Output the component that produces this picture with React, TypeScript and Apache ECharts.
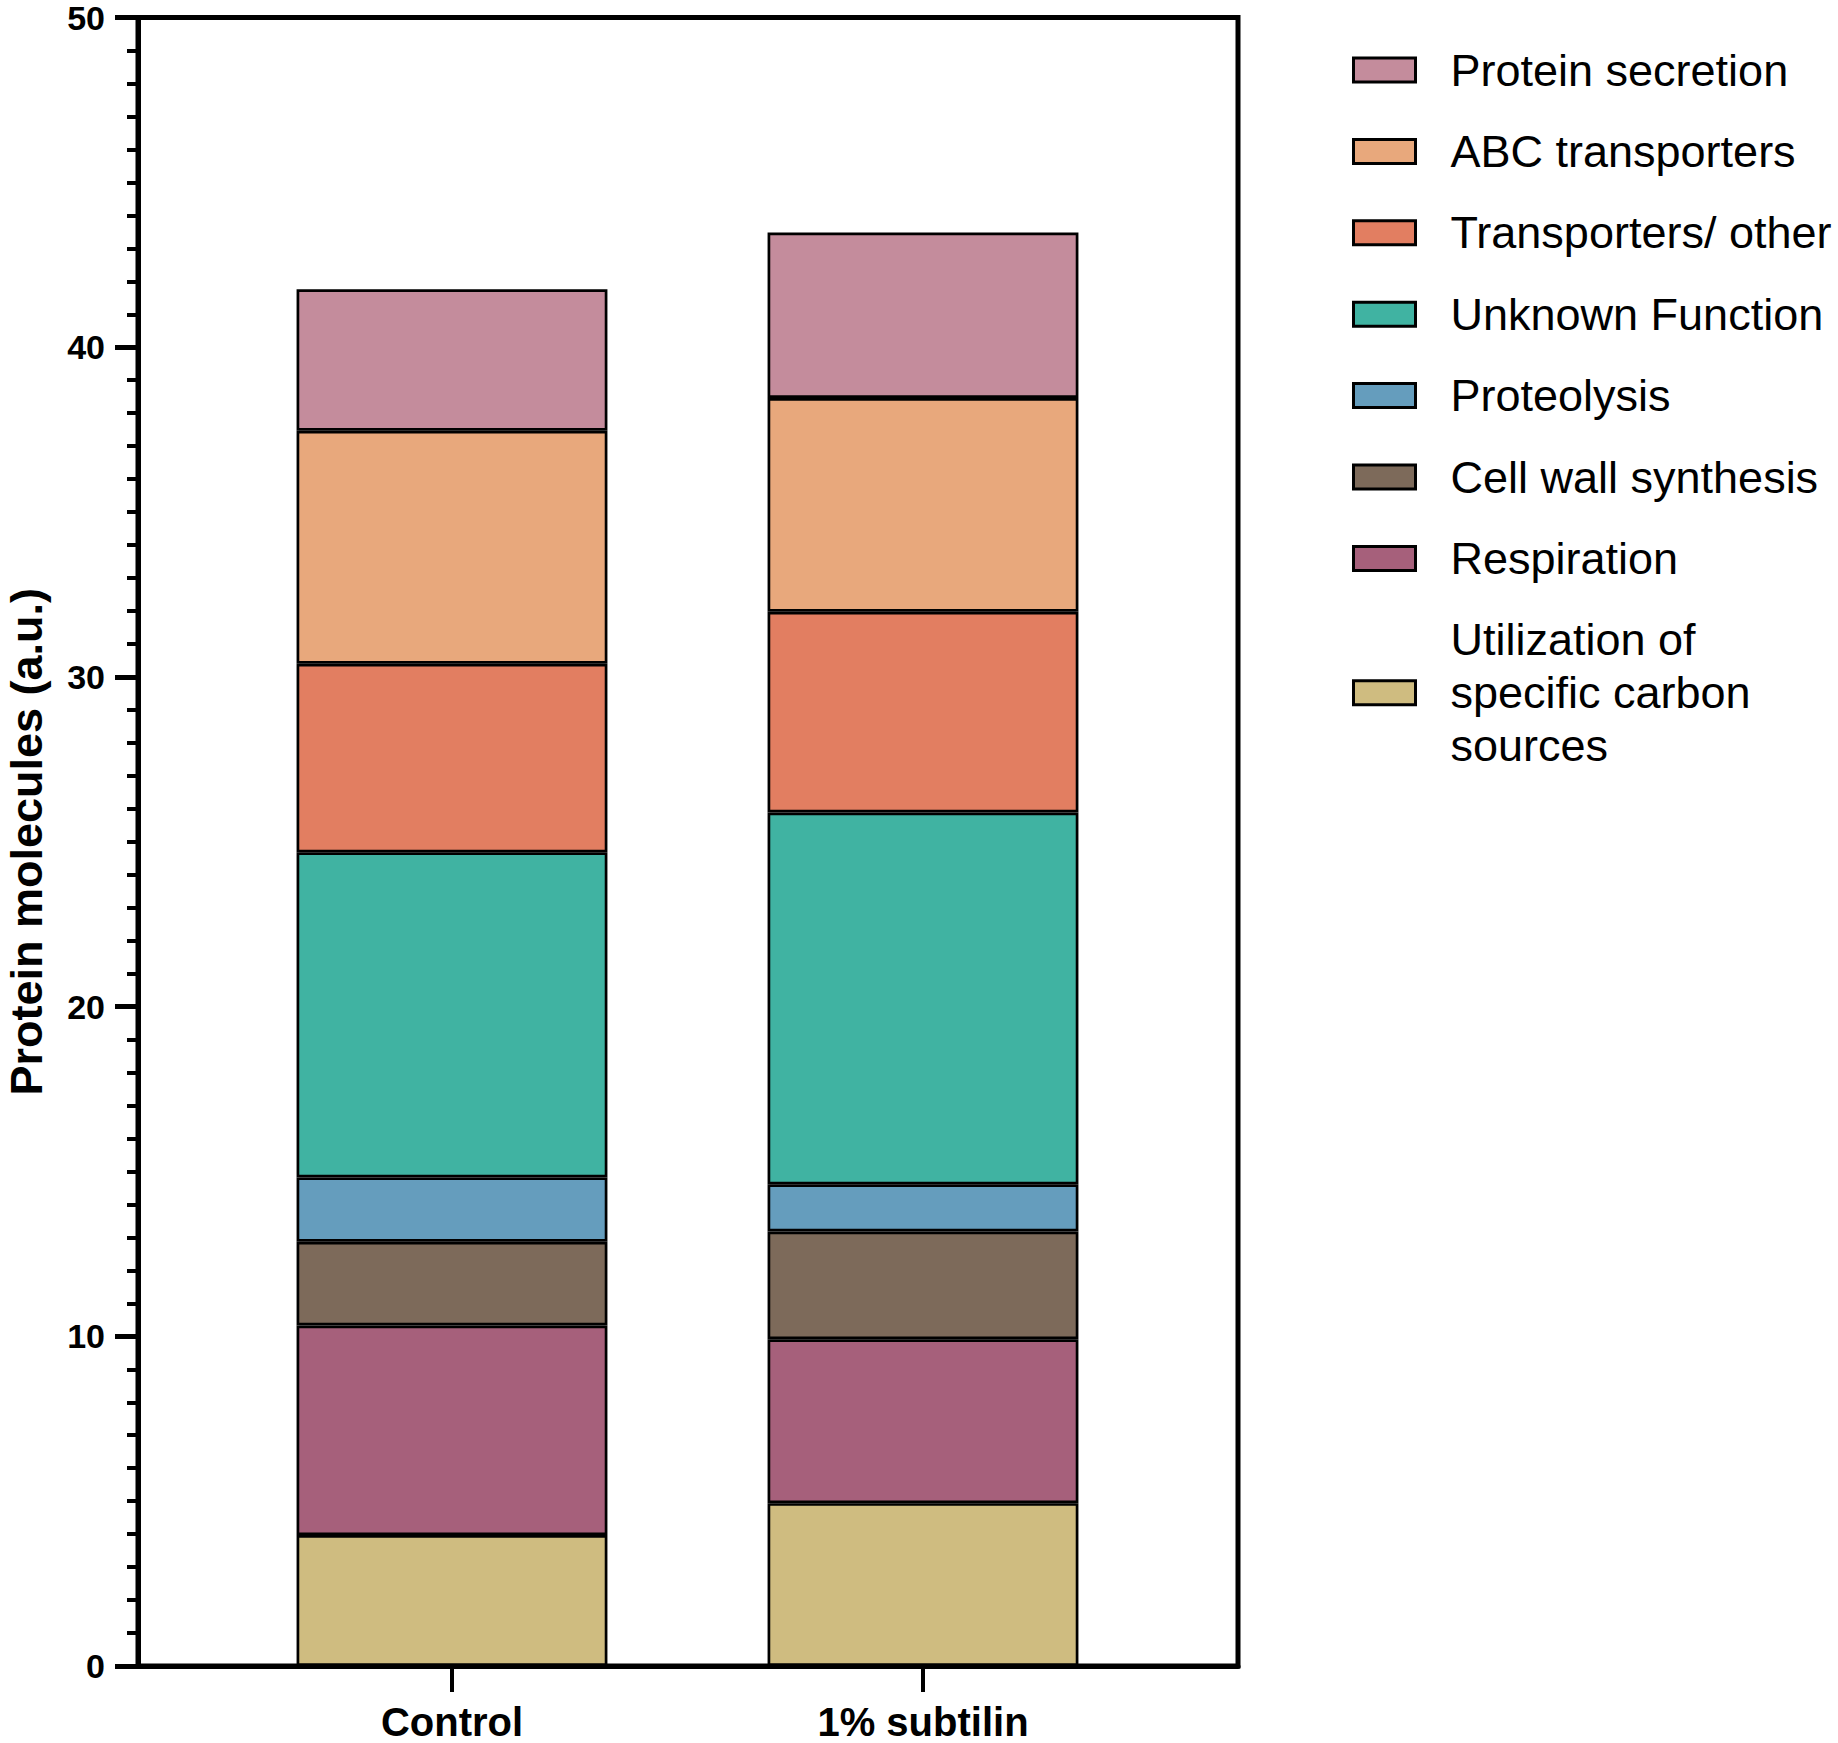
import React, { useEffect, useRef } from "react";
import * as echarts from "echarts";

const categories = ["Control", "1% subtilin"];

// stacking order: bottom to top
const seriesNames = [
  "Utilization of specific carbon sources",
  "Respiration",
  "Cell wall synthesis",
  "Proteolysis",
  "Unknown Function",
  "Transporters/ other",
  "ABC transporters",
  "Protein secretion",
];

const utilization = [3.97, 4.94];
const respiration = [6.36, 4.97];
const cellWall = [2.54, 3.27];
const proteolysis = [1.95, 1.43];
const unknownFunction = [9.86, 11.28];
const transportersOther = [5.72, 6.09];
const abcTransporters = [7.07, 6.48];
const proteinSecretion = [4.29, 5.02];

const seriesValues = [
  utilization,
  respiration,
  cellWall,
  proteolysis,
  unknownFunction,
  transportersOther,
  abcTransporters,
  proteinSecretion,
];

const seriesColors = [
  "#CFBC80",
  "#A6607B",
  "#7D6A5A",
  "#659DBD",
  "#40B3A2",
  "#E27E61",
  "#E8A87C",
  "#C48C9C",
];

const FONT = "'Liberation Sans', Arial, Helvetica, sans-serif";

export default function App() {
  const ref = useRef<HTMLDivElement>(null);

  useEffect(() => {
    document.body.style.margin = "0";
    const chart = echarts.init(ref.current!, null, { renderer: "svg" });

    const option = {
      animation: false,
      backgroundColor: "#ffffff",
      textStyle: { fontFamily: FONT },
      grid: [
        {
          left: 138,
          top: 17.6,
          width: 1100,
          height: 1648.4,
          show: true,
          borderColor: "#000",
          borderWidth: 5,
          backgroundColor: "transparent",
          containLabel: false,
          outerBoundsMode: "none",
        },
        {
          left: 216.5,
          top: 17.6,
          width: 942,
          height: 1648.4,
          show: false,
          containLabel: false,
          outerBoundsMode: "none",
        },
      ],
      xAxis: [
        {
          type: "value",
          gridIndex: 0,
          min: 0,
          max: 1,
          axisLine: { show: true, lineStyle: { color: "#000", width: 5 } },
          axisTick: { show: false },
          axisLabel: { show: false },
          splitLine: { show: false },
        },
        {
          type: "category",
          gridIndex: 1,
          data: categories,
          boundaryGap: true,
          axisLine: { show: false },
          axisTick: {
            show: true,
            alignWithLabel: true,
            length: 26,
            lineStyle: { color: "#000", width: 4 },
          },
          axisLabel: {
            color: "#000",
            fontSize: 40,
            fontWeight: "bold",
            fontFamily: FONT,
            margin: 36,
          },
          splitLine: { show: false },
        },
      ],
      yAxis: [
        {
          type: "value",
          gridIndex: 0,
          min: 0,
          max: 50,
          interval: 10,
          name: "Protein molecules (a.u.)",
          nameLocation: "middle",
          nameRotate: 90,
          nameGap: 89,
          nameTextStyle: {
            color: "#000",
            fontSize: 45,
            lineHeight: 46,
            fontWeight: "bold",
            fontFamily: FONT,
          },
          axisLine: { show: true, lineStyle: { color: "#000", width: 5 } },
          axisTick: {
            show: true,
            length: 23,
            lineStyle: { color: "#000", width: 5 },
          },
          minorTick: {
            show: true,
            splitNumber: 10,
            length: 11,
            lineStyle: { color: "#000", width: 4 },
          },
          axisLabel: {
            color: "#000",
            fontSize: 34,
            fontWeight: "bold",
            fontFamily: FONT,
            margin: 33,
          },
          splitLine: { show: false },
          minorSplitLine: { show: false },
        },
        {
          type: "value",
          gridIndex: 1,
          min: 0,
          max: 50,
          show: false,
          splitLine: { show: false },
        },
      ],
      legend: {
        orient: "vertical",
        left: 1352,
        top: 43.5,
        padding: 0,
        itemGap: 28.4,
        itemWidth: 62,
        itemHeight: 24,
        icon: "rect",
        itemStyle: { borderColor: "#000", borderWidth: 3 },
        textStyle: {
          color: "#000",
          fontSize: 45,
          lineHeight: 53,
          fontFamily: FONT,
          padding: [0, 0, 0, 30],
        },
        formatter: (name: string) =>
          name === "Utilization of specific carbon sources"
            ? "Utilization of\nspecific carbon\nsources"
            : name,
        data: [...seriesNames].reverse(),
      },
      series: seriesNames.map((name, i) => ({
        name,
        type: "bar",
        stack: "total",
        xAxisIndex: 1,
        yAxisIndex: 1,
        barWidth: "66%",
        data: seriesValues[i],
        itemStyle: {
          color: seriesColors[i],
          borderColor: "#000",
          borderWidth: 2.7,
        },
      })),
    };

    chart.setOption(option);
    return () => chart.dispose();
  }, []);

  return (
    <div
      ref={ref}
      style={{ width: 1838, height: 1743, position: "absolute", left: 0, top: 0 }}
    />
  );
}
